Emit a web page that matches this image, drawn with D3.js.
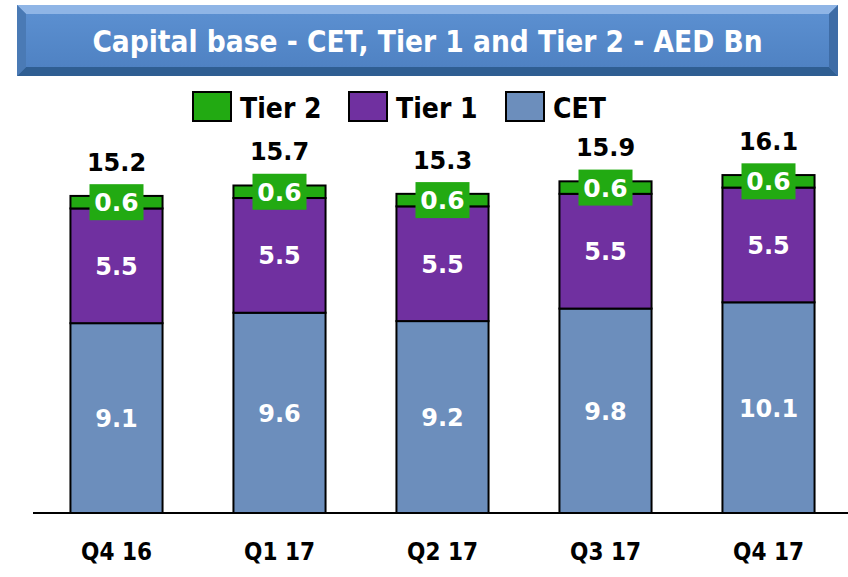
<!DOCTYPE html>
<html><head><meta charset="utf-8">
<script src="https://cdn.jsdelivr.net/npm/d3@7"></script>
<style>body{margin:0;background:#fff}svg{display:block}</style>
</head><body>
<svg id="c" width="848" height="577"></svg>
<script>
const categories = ["Q4 16","Q1 17","Q2 17","Q3 17","Q4 17"];
const cet   = [9.1, 9.6, 9.2, 9.8, 10.1];
const tier1 = [5.5, 5.5, 5.5, 5.5, 5.5];
const tier2 = [0.6, 0.6, 0.6, 0.6, 0.6];
const totals = [15.2, 15.7, 15.3, 15.9, 16.1];
const seriesNames = ["CET","Tier 1","Tier 2"];
const legendOrder = ["Tier 2","Tier 1","CET"];
const colors = {"CET":"#6c8ebc","Tier 1":"#7030a0","Tier 2":"#22aa12"};
const title = "Capital base - CET, Tier 1 and Tier 2 - AED Bn";

const svg = d3.select("#c");
const W = 848, H = 577;

// Title banner with bevel
const tb = {x0:17, y0:5, x1:838, y1:76, b:9};
const g0 = svg.append("g");
const defs = svg.append("defs");
const lg = defs.append("linearGradient").attr("id","tg").attr("x1",0).attr("y1",0).attr("x2",0).attr("y2",1);
lg.append("stop").attr("offset","0").attr("stop-color","#5b8fd0");
lg.append("stop").attr("offset","1").attr("stop-color","#4f82c3");
g0.append("rect").attr("x",tb.x0).attr("y",tb.y0).attr("width",tb.x1-tb.x0).attr("height",tb.y1-tb.y0).attr("fill","#4f81bd");
const P = (pts)=>pts.map(p=>p.join(",")).join(" ");
g0.append("polygon").attr("points",P([[tb.x0,tb.y0],[tb.x1,tb.y0],[tb.x1-tb.b,tb.y0+tb.b],[tb.x0+tb.b,tb.y0+tb.b]])).attr("fill","#8fb5e6");
g0.append("polygon").attr("points",P([[tb.x0,tb.y1],[tb.x1,tb.y1],[tb.x1-tb.b,tb.y1-tb.b],[tb.x0+tb.b,tb.y1-tb.b]])).attr("fill","#2f5e92");
g0.append("polygon").attr("points",P([[tb.x0,tb.y0],[tb.x0+tb.b,tb.y0+tb.b],[tb.x0+tb.b,tb.y1-tb.b],[tb.x0,tb.y1]])).attr("fill","#4a7ab5");
g0.append("polygon").attr("points",P([[tb.x1,tb.y0],[tb.x1-tb.b,tb.y0+tb.b],[tb.x1-tb.b,tb.y1-tb.b],[tb.x1,tb.y1]])).attr("fill","#3e6ca6");
g0.append("rect").attr("x",tb.x0+tb.b).attr("y",tb.y0+tb.b).attr("width",tb.x1-tb.x0-2*tb.b).attr("height",tb.y1-tb.y0-2*tb.b).attr("fill","url(#tg)");
g0.append("text").attr("x",(tb.x0+tb.x1)/2).attr("y",52).attr("text-anchor","middle")
  .attr("font-family","'DejaVu Sans Condensed','DejaVu Sans',sans-serif").attr("font-weight","bold").attr("font-size",29.5)
  .attr("fill","#fff").text(title);

// Legend
const legX = [192, 348, 505];
const lgd = svg.append("g");
legendOrder.forEach((n,i)=>{
  lgd.append("rect").attr("x",legX[i]+1).attr("y",92).attr("width",38).attr("height",29)
    .attr("fill",colors[n]).attr("stroke","#000").attr("stroke-width",2);
  lgd.append("text").attr("x",legX[i]+48).attr("y",118)
    .attr("font-family","'DejaVu Sans Condensed','DejaVu Sans',sans-serif").attr("font-weight","bold").attr("font-size",28)
    .attr("fill","#000").text(n);
});

// Scales
const x = d3.scaleBand().domain(categories).range([35,850]).paddingInner(0.435).paddingOuter(0.2175);
const y = d3.scaleLinear().domain([0,20]).range([513, 513-417.2]);

const data = categories.map((c,i)=>({cat:c,"CET":cet[i],"Tier 1":tier1[i],"Tier 2":tier2[i],total:totals[i]}));
const stack = d3.stack().keys(seriesNames)(data);

const gb = svg.append("g");
stack.forEach(s=>{
  gb.selectAll(null).data(s).join("rect")
    .attr("x",d=>x(d.data.cat)).attr("width",x.bandwidth())
    .attr("y",d=>y(d[1])).attr("height",d=>y(d[0])-y(d[1]))
    .attr("fill",colors[s.key]).attr("stroke","#000").attr("stroke-width",2);
});

// Axis line
svg.append("line").attr("x1",33).attr("x2",848).attr("y1",y(0)).attr("y2",y(0)).attr("stroke","#000").attr("stroke-width",2);

// Category labels
const xAxis = svg.append("g").attr("transform",`translate(0,${y(0)})`)
  .call(d3.axisBottom(x).tickSize(0).tickPadding(30));
xAxis.select(".domain").remove();
xAxis.selectAll("text").attr("font-family","'DejaVu Sans Condensed','DejaVu Sans',sans-serif")
  .attr("font-weight","bold").attr("font-size",24).attr("fill","#000");

const lf = "'DejaVu Sans',sans-serif";
// CET & Tier1 labels
stack.forEach(s=>{
  if(s.key==="Tier 2") return;
  gb.selectAll(null).data(s).join("text")
    .attr("x",d=>x(d.data.cat)+x.bandwidth()/2).attr("y",d=>(y(d[0])+y(d[1]))/2+9)
    .attr("text-anchor","middle").attr("font-family",lf).attr("font-weight","bold").attr("font-size",24)
    .attr("fill","#fff").text(d=>d.data[s.key].toFixed(1));
});
// Tier 2 labels with green box
const t2 = stack[2];
gb.selectAll(null).data(t2).join("rect")
  .attr("x",d=>x(d.data.cat)+x.bandwidth()/2-27).attr("y",d=>(y(d[0])+y(d[1]))/2-18)
  .attr("width",54).attr("height",36).attr("fill",colors["Tier 2"]);
gb.selectAll(null).data(t2).join("text")
  .attr("x",d=>x(d.data.cat)+x.bandwidth()/2).attr("y",d=>(y(d[0])+y(d[1]))/2+9)
  .attr("text-anchor","middle").attr("font-family",lf).attr("font-weight","bold").attr("font-size",25)
  .attr("fill","#fff").text(d=>d.data["Tier 2"].toFixed(1));
// Totals
gb.selectAll(null).data(t2).join("text")
  .attr("x",d=>x(d.data.cat)+x.bandwidth()/2).attr("y",d=>y(d[1])-25)
  .attr("text-anchor","middle").attr("font-family",lf).attr("font-weight","bold").attr("font-size",24)
  .attr("fill","#000").text(d=>d.data.total.toFixed(1));
</script>
</body></html>
